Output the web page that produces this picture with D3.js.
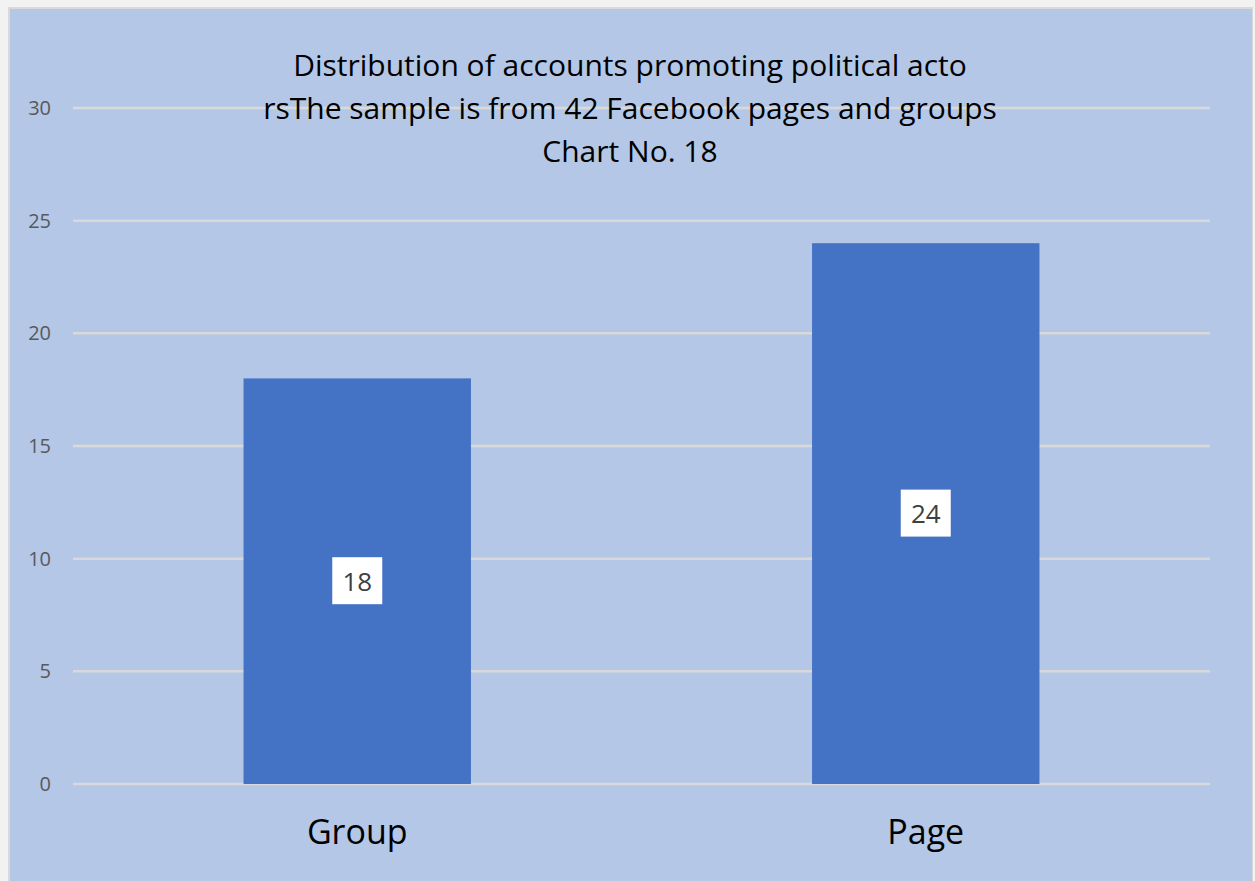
<!DOCTYPE html>
<html><head><meta charset="utf-8">
<script src="https://cdn.jsdelivr.net/npm/d3@7"></script>
<style>html,body{margin:0;padding:0;background:#f4f4f4;}svg{display:block;}</style>
</head><body>
<script>
const categories = ["Group", "Page"];
const values = [18, 24];
const yTicks = [0, 5, 10, 15, 20, 25, 30];
const titleLines = ["Distribution of accounts promoting political acto", "rsThe sample is from 42 Facebook pages and groups", "Chart No. 18"];

const W = 1255, H = 881;
const svg = d3.select("body").append("svg").attr("width", W).attr("height", H);
svg.append("rect").attr("x", 0).attr("y", 0).attr("width", W).attr("height", H).attr("fill", "#f2f2f2");
svg.append("rect").attr("x", 8).attr("y", 7).attr("width", 1245).attr("height", H - 7).attr("fill", "#d9d9d9");
svg.append("rect").attr("x", 10).attr("y", 9).attr("width", 1242).attr("height", H - 9).attr("fill", "#b4c7e7");

const x0 = 73, x1 = 1210, yTop = 108, yBot = 784;
const y = d3.scaleLinear().domain([0, 30]).range([yBot, yTop]);
const x = d3.scaleBand().domain(categories).range([x0, x1]).paddingInner(0.6).paddingOuter(0.3);

const font = "'Open Sans', sans-serif";

// gridlines
svg.append("g").selectAll("line").data(yTicks).join("line")
  .attr("x1", x0).attr("x2", x1)
  .attr("y1", d => y(d)).attr("y2", d => y(d))
  .attr("stroke", "#d9d9d9").attr("stroke-width", 2.5);

// y axis labels
const yAxis = d3.axisLeft(y).tickValues(yTicks).tickSize(0).tickPadding(0);
const gy = svg.append("g").attr("transform", "translate(51,0)").call(yAxis);
gy.select(".domain").remove();
gy.selectAll("text").attr("fill", "#595959").style("font-family", font).style("font-size", "20px");

// bars
svg.append("g").selectAll("rect").data(values).join("rect")
  .attr("x", (d, i) => x(categories[i])).attr("width", x.bandwidth())
  .attr("y", d => y(d)).attr("height", d => yBot - y(d))
  .attr("fill", "#4472c4");

// data labels
const lab = svg.append("g").selectAll("g").data(values).join("g")
  .attr("transform", (d, i) => `translate(${x(categories[i]) + x.bandwidth() / 2},${y(d / 2)})`);
lab.append("rect").attr("x", -25).attr("y", -24).attr("width", 50).attr("height", 47).attr("fill", "#ffffff");
lab.append("text").text(d => d).attr("text-anchor", "middle").attr("dy", "0.36em")
  .attr("fill", "#404040").style("font-family", font).style("font-size", "26px");

// x axis labels
const xAxis = d3.axisBottom(x).tickSize(0).tickPadding(0);
const gx = svg.append("g").attr("transform", `translate(0,${yBot + 36})`).call(xAxis);
gx.select(".domain").remove();
gx.selectAll("text").attr("fill", "#000").style("font-family", font).style("font-size", "34px").attr("dy", "0.71em");

// title
svg.append("g").selectAll("text").data(titleLines).join("text")
  .attr("x", 630).attr("y", (d, i) => 76 + i * 43)
  .attr("text-anchor", "middle").attr("fill", "#000")
  .style("font-family", font).style("font-size", "30px")
  .text(d => d);
</script>
</body></html>
